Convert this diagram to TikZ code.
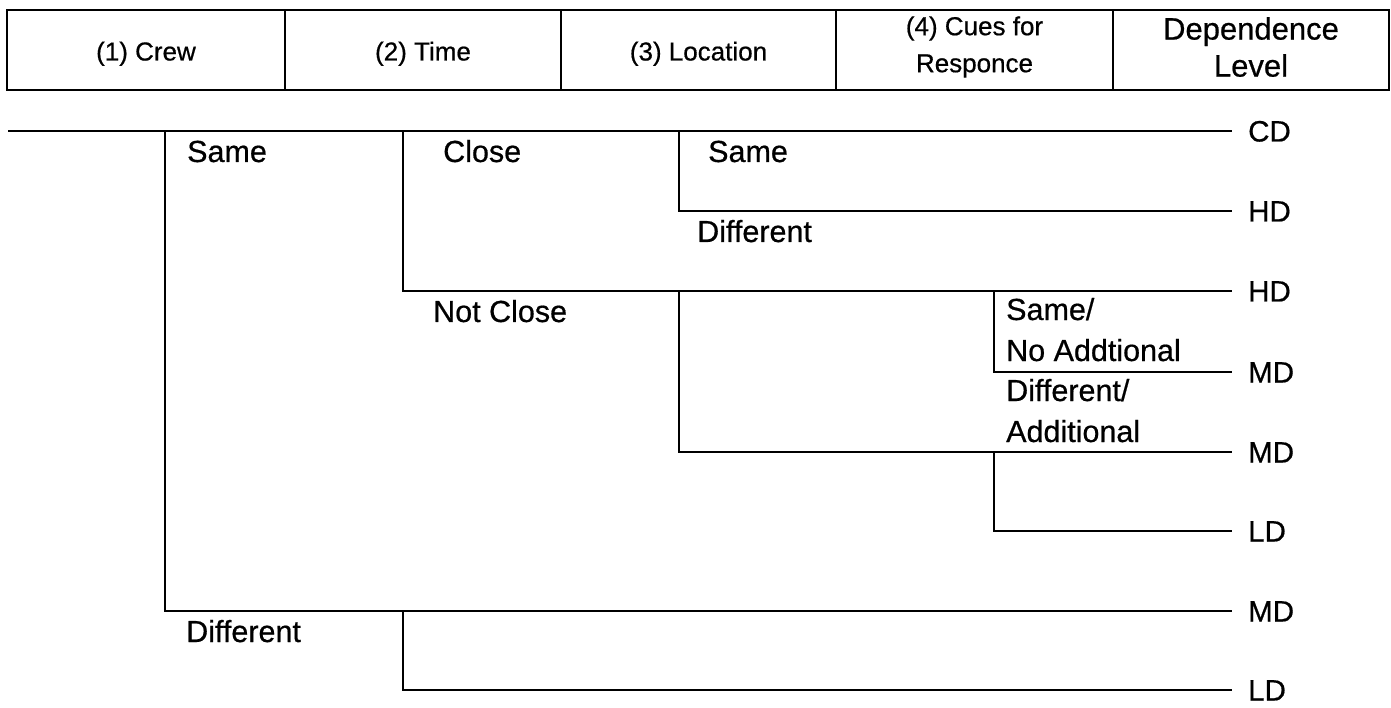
\documentclass[tikz,border=0pt]{standalone}
\usepackage{fontspec}
\setmainfont[FakeBold=0.6]{Liberation Sans}
\newcommand\headfont{\fontsize{26}{37}\selectfont}
\newcommand\bigheadfont{\fontsize{31}{37}\selectfont}
\newcommand\branchfont{\fontsize{30.5}{36}\selectfont}
\newcommand\levelfont{\fontsize{29.5}{36}\selectfont}
\begin{document}
\begin{tikzpicture}[x=1pt,y=-1pt,
  rule/.style={line width=2.8pt, line join=miter},
  cell/.style={draw, line width=2.8pt, minimum height=80pt, inner sep=0pt,
    align=center, font=\headfont},
  head/.style={inner sep=0pt, align=center, font=\headfont},
  branch/.style={anchor=base west, inner sep=0pt, font=\branchfont},
  level/.style={anchor=west, inner xsep=16pt, inner ysep=0pt,
    text height=21pt, text depth=0pt, font=\levelfont}]
\useasboundingbox (0,0) rectangle (1391,708);

% column heading cells
\node[cell, minimum width=278pt] (h1) at (146,50) {};
\node[cell, minimum width=276pt] (h2) at (423,50) {};
\node[cell, minimum width=275pt] (h3) at (698.5,50) {};
\node[cell, minimum width=277pt] (h4) at (974.5,50) {};
\node[cell, minimum width=276pt] (h5) at (1251,50) {};

% column heading texts
\node[head, text height=19pt, text depth=0pt] (t1) at (h1.center) [yshift=-1pt] {(1) Crew};
\node[head, text height=19pt, text depth=0pt] (t2) at (h2.center) [yshift=-1pt] {(2) Time};
\node[head, text height=19pt, text depth=0pt] (t3) at (h3.center) [yshift=-1pt] {(3) Location};
\node[head] (t4) at (h4.center) [yshift=3pt] {(4) Cues for\\Responce};
\node[head, font=\bigheadfont] (t5) at (h5.center) [yshift=3pt] {Dependence\\Level};

% dependence levels at the ends of the branches
\node[level] (CD)  at (1232,131) {CD};
\node[level] (HD1) at (1232,211) {HD};
\node[level] (HD2) at (1232,291) {HD};
\node[level] (MD1) at (1232,372) {MD};
\node[level] (MD2) at (1232,452) {MD};
\node[level] (LD1) at (1232,531) {LD};
\node[level] (MD3) at (1232,611) {MD};
\node[level] (LD2) at (1232,690) {LD};

% branch points
\coordinate (root)  at (8,131);
\coordinate (crew)  at (165,131);
\coordinate (time)  at (403,131);
\coordinate (loc)   at (679,131);
\coordinate (loc2)  at (679,291);
\coordinate (cues)  at (994,291);
\coordinate (cues2) at (994,452);
\coordinate (time2) at (403,611);

% event tree
\draw[rule] (root) -- (CD.west);
\draw[rule] (crew) |- (MD3.west);
\draw[rule] (time) |- (HD2.west);
\draw[rule] (loc) |- (HD1.west);
\draw[rule] (loc2) |- (MD2.west);
\draw[rule] (cues) |- (MD1.west);
\draw[rule] (cues2) |- (LD1.west);
\draw[rule] (time2) |- (LD2.west);

% branch labels
\node[branch] (crewSame)  at (187,162) {Same};
\node[branch] (crewDiff)  at (186,642) {Different};
\node[branch] (timeClose) at (443,162) {Close};
\node[branch] (timeNot)   at (433,322) {Not Close};
\node[branch] (locSame)   at (708,162) {Same};
\node[branch] (locDiff)   at (697,242) {Different};
\node[branch] (cueSameA)  at (1006,320) {Same/};
\node[branch] (cueSameB)  at (1006,361) {No Addtional};
\node[branch] (cueDiffA)  at (1006,401) {Different/};
\node[branch] (cueDiffB)  at (1006,442) {Additional};
\end{tikzpicture}
\end{document}
